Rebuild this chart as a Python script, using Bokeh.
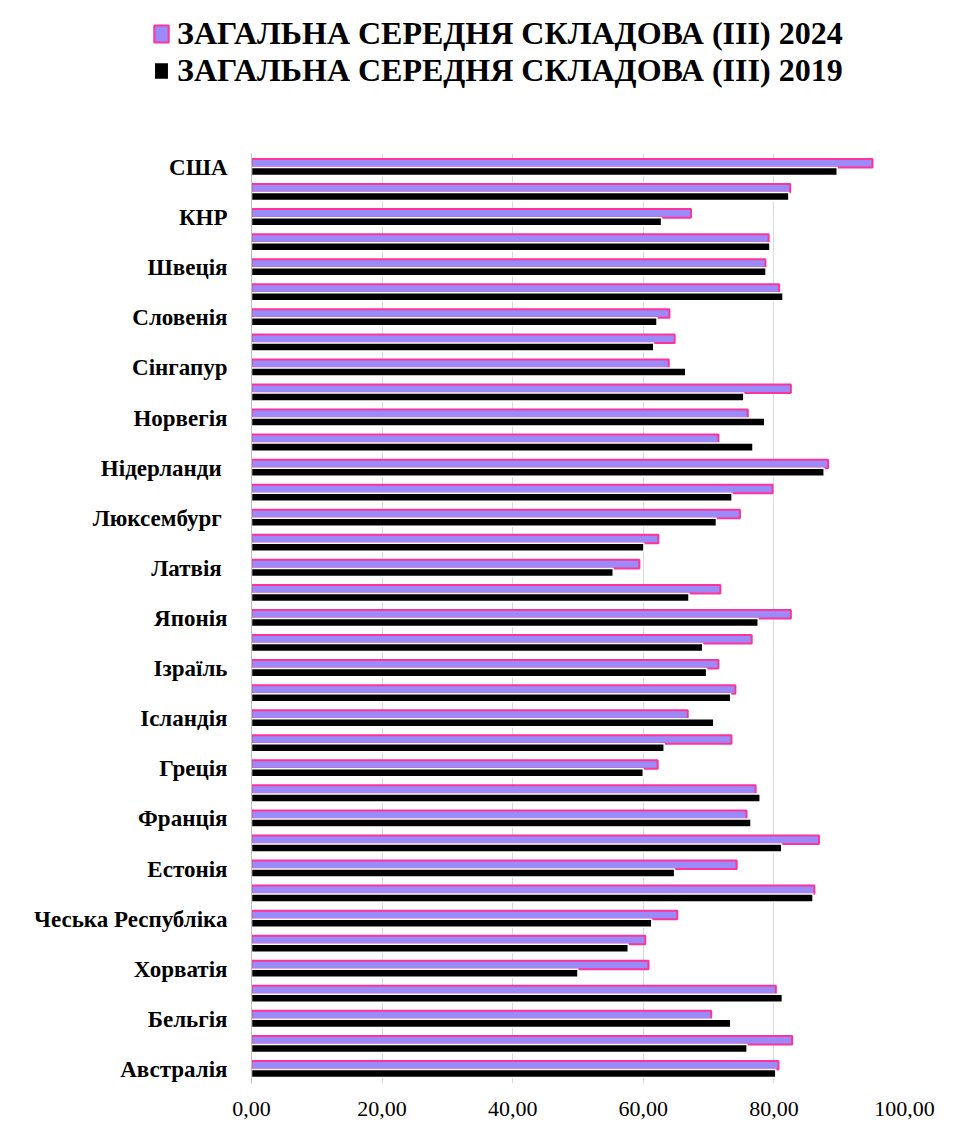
from bokeh.plotting import figure
from bokeh.models import FixedTicker, Legend, LegendItem, Range1d, ColumnDataSource
from bokeh.transform import dodge
from bokeh.embed import file_html
from bokeh.resources import INLINE

countries = ["Австралія", "Австрія", "Бельгія", "Канада", "Хорватія", "Кіпр",
             "Чеська Республіка", "Данія", "Естонія", "Фінляндія", "Франція",
             "Німеччина", "Греція", "Угорщина", "Ісландія", "Ірландія", "Ізраїль",
             "Італія", "Японія", "Республіка Корея", "Латвія", "Литва", "Люксембург",
             "Мальта", "Нідерланди", "Нова Зеландія", "Норвегія", "Португалія",
             "Сінгапур", "Словаччина", "Словенія", "Іспанія", "Швеція", "Швейцарія",
             "КНР", "Велика Британія", "США"]
values_2024 = [80.7, 82.8, 70.4, 80.3, 60.8, 60.3, 65.2, 86.2, 74.3, 86.9, 75.8,
               77.2, 62.2, 73.5, 66.8, 74.1, 71.5, 76.6, 82.6, 71.8, 59.4, 62.3,
               74.8, 79.8, 88.3, 71.5, 76.0, 82.6, 63.9, 64.8, 64.0, 80.8, 78.7,
               79.2, 67.3, 82.5, 95.1]
values_2019 = [80.3, 75.9, 73.4, 81.3, 50.0, 57.7, 61.3, 86.0, 64.8, 81.2, 76.5,
               77.9, 60.0, 63.2, 70.8, 73.4, 69.7, 69.1, 77.6, 67.0, 55.4, 60.1,
               71.2, 73.6, 87.7, 76.8, 78.6, 75.4, 66.5, 61.6, 62.1, 81.4, 78.8,
               79.4, 62.8, 82.3, 89.7]
x_ticks = [0, 20, 40, 60, 80, 100]
series_names = ["ЗАГАЛЬНА СЕРЕДНЯ СКЛАДОВА (ІІІ) 2024",
                "ЗАГАЛЬНА СЕРЕДНЯ СКЛАДОВА (ІІІ) 2019"]

style24 = dict(fill_color="#9A8AFA", line_color="#FF3399", line_width=2)
style19 = dict(fill_color="black", line_color="white", line_width=1.5)

n = len(countries)
src = ColumnDataSource(dict(pos=list(range(n)), v24=values_2024, v19=values_2019))

# ---- legend strip (top) ----
lg = figure(width=954, height=153, output_backend="svg", toolbar_location=None,
            x_range=Range1d(0, 1), y_range=Range1d(0, 1),
            min_border=0, min_border_left=0, min_border_right=0,
            min_border_top=0, min_border_bottom=0,
            x_axis_type=None, y_axis_type=None)
lg.outline_line_color = None
lg.xgrid.grid_line_color = None
lg.ygrid.grid_line_color = None
l24 = lg.hbar(y="pos", right="v24", left=0, height=0.3, source=src, visible=False,
              **style24)
l19 = lg.hbar(y="pos", right="v19", left=0, height=0.3, source=src, visible=False,
              **style19)
legend = Legend(items=[LegendItem(label=series_names[0], renderers=[l24]),
                       LegendItem(label=series_names[1], renderers=[l19])],
                location=(152, 64), orientation="vertical",
                label_text_font="Liberation Serif", label_text_font_style="bold",
                label_text_font_size="32px", label_text_color="black",
                glyph_width=18, glyph_height=21, label_standoff=7,
                label_height=32, spacing=-5, padding=0, margin=0,
                background_fill_alpha=0, border_line_color=None)
lg.add_layout(legend, "center")

# ---- main chart ----
p = figure(width=954, height=977, output_backend="svg", toolbar_location=None,
           x_range=Range1d(0, 100), y_range=Range1d(-0.56, n - 1 + 0.56),
           min_border_left=251, min_border_right=50, min_border_top=0,
           min_border_bottom=47)
p.outline_line_color = None
p.background_fill_color = "white"
p.border_fill_color = "white"

r24 = p.hbar(y=dodge("pos", 0.17), right="v24", left=0, height=0.34, source=src,
             **style24)
r19 = p.hbar(y=dodge("pos", -0.16), right="v19", left=0, height=0.32, source=src,
             **style19)

p.xaxis.ticker = FixedTicker(ticks=x_ticks)
p.xaxis.major_label_overrides = {t: f"{t:.2f}".replace(".", ",") for t in x_ticks}
p.xaxis.axis_line_color = None
p.xaxis.major_tick_line_color = None
p.xaxis.minor_tick_line_color = None
p.xaxis.major_label_text_font = "Liberation Serif"
p.xaxis.major_label_text_font_size = "22px"
p.xaxis.major_label_text_color = "black"
p.xaxis.major_label_standoff = 12

label_ticks = list(range(0, n, 2))
p.yaxis.ticker = FixedTicker(ticks=label_ticks)
overrides = {}
for i in label_ticks:
    name = countries[i]
    if name in ("Латвія", "Люксембург", "Нідерланди"):
        name = name + "\u00a0"
    overrides[i] = name
p.yaxis.major_label_overrides = overrides
p.yaxis.axis_line_color = "#BFBFBF"
p.yaxis.major_tick_line_color = None
p.yaxis.minor_tick_line_color = None
p.yaxis.major_label_text_font = "Liberation Serif"
p.yaxis.major_label_text_font_style = "bold"
p.yaxis.major_label_text_font_size = "23px"
p.yaxis.major_label_text_color = "black"
p.yaxis.major_label_standoff = 18

p.xgrid.grid_line_color = "#D9D9D9"
p.xgrid.grid_line_width = 1
p.ygrid.grid_line_color = None

open("out.html", "w").write(file_html([lg, p], INLINE))
